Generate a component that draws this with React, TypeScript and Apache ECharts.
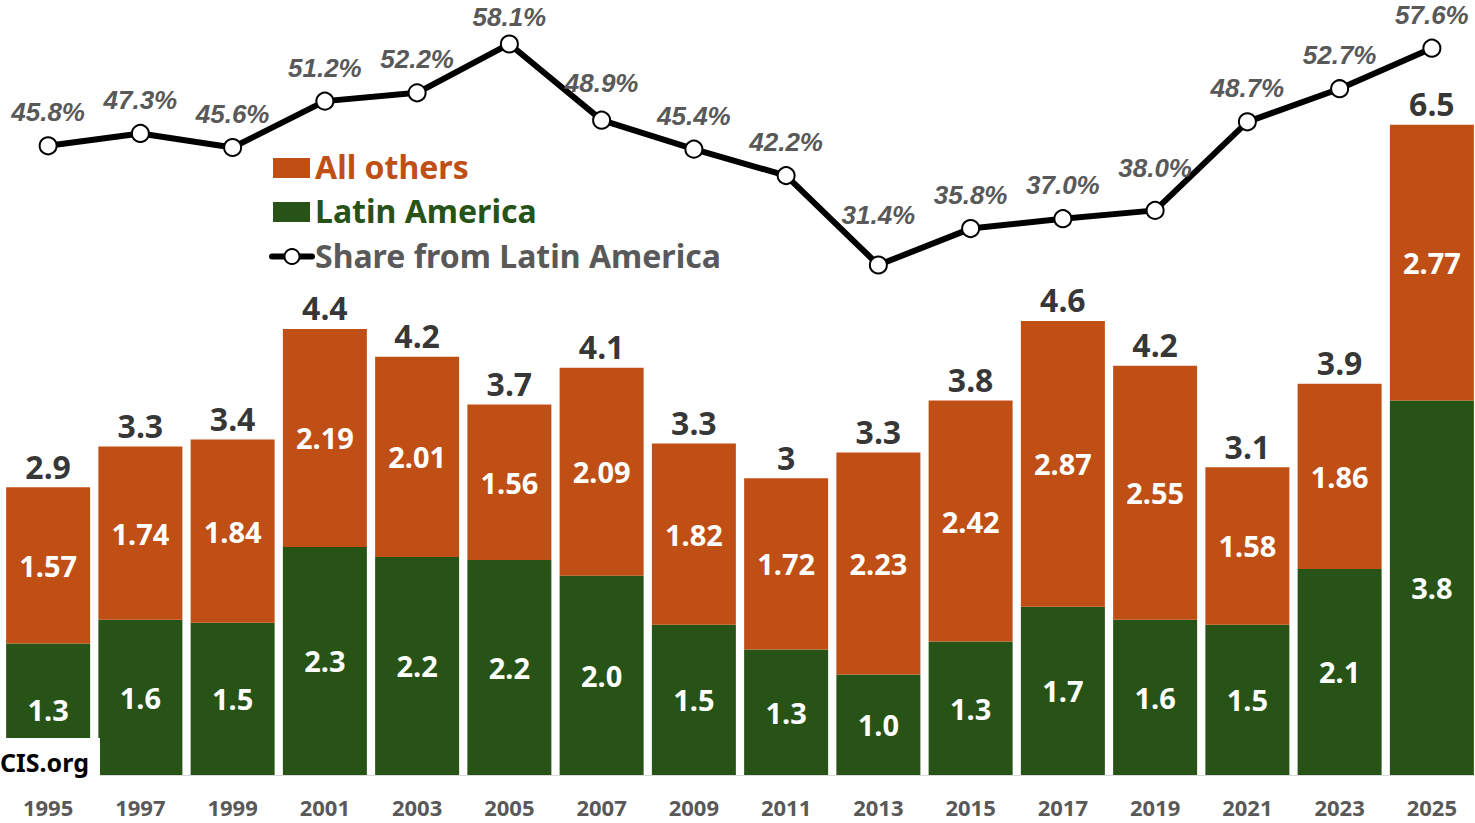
import React, { useEffect, useRef } from "react";
import * as echarts from "echarts";

const years = ["1995","1997","1999","2001","2003","2005","2007","2009","2011","2013","2015","2017","2019","2021","2023","2025"];
const latinAmerica = [1.32,1.56,1.53,2.29,2.19,2.16,2.0,1.51,1.26,1.01,1.34,1.69,1.56,1.51,2.07,3.76];
const allOthers = [1.57,1.74,1.84,2.19,2.01,1.56,2.09,1.82,1.72,2.23,2.42,2.87,2.55,1.58,1.86,2.77];
const totalLabels = ["2.9","3.3","3.4","4.4","4.2","3.7","4.1","3.3","3","3.3","3.8","4.6","4.2","3.1","3.9","6.5"];
const shareLatin = [45.8,47.3,45.6,51.2,52.2,58.1,48.9,45.4,42.2,31.4,35.8,37.0,38.0,48.7,52.7,57.6];
const legendNames = ["All others", "Latin America", "Share from Latin America"];

const ORANGE = "#C04F15";
const GREEN = "#275317";
const GRAY = "#595959";
const FONT = "'Noto Sans', sans-serif";

// label distances for the share labels (layout only)
const shareLabelDistance: Record<number, number> = { 5: 5, 6: 15, 9: 28, 12: 20 };

export default function App() {
  const ref = useRef<HTMLDivElement>(null);
  useEffect(() => {
    if (!ref.current) return;
    const chart = echarts.init(ref.current, null, { renderer: "svg" });
    const totals = latinAmerica.map((v, i) => v + allOthers[i]);
    const gridLeft = 2;
    const gridWidth = 1476;
    const legendText = (txt: string, y: number, color: string) => ({
      type: "text",
      left: 315,
      top: y - 17,
      z: 50,
      style: { text: txt, fill: color, fontSize: 32, fontWeight: "bold", fontFamily: FONT },
    });
    chart.setOption({
      animation: false,
      textStyle: { fontFamily: FONT },
      grid: [
        { left: gridLeft, width: gridWidth, top: 78, height: 697, outerBoundsMode: "none", containLabel: false },
        { left: gridLeft, width: gridWidth, top: 28.3, height: 248.3, outerBoundsMode: "none", containLabel: false },
      ],
      xAxis: [
        {
          type: "category",
          gridIndex: 0,
          data: years,
          axisLine: { show: true, lineStyle: { color: "#D9D9D9", width: 1 } },
          axisTick: { show: false },
          axisLabel: { color: GRAY, fontSize: 22, fontWeight: "bold", fontFamily: FONT, margin: 21 },
        },
        { type: "category", gridIndex: 1, data: years, show: false },
      ],
      yAxis: [
        { type: "value", gridIndex: 0, min: 0, max: 7, show: false, splitLine: { show: false } },
        { type: "value", gridIndex: 1, min: 30, max: 60, show: false, splitLine: { show: false } },
      ],
      series: [
        {
          name: "Latin America",
          type: "bar",
          stack: "total",
          xAxisIndex: 0,
          yAxisIndex: 0,
          barWidth: 84,
          data: latinAmerica,
          itemStyle: { color: GREEN },
          label: {
            show: true,
            position: "inside",
            color: "#fff",
            fontSize: 29,
            fontWeight: "bold",
            fontFamily: FONT,
            formatter: (p: any) => Number(p.value).toFixed(1),
          },
        },
        {
          name: "All others",
          type: "bar",
          stack: "total",
          xAxisIndex: 0,
          yAxisIndex: 0,
          barWidth: 84,
          data: allOthers,
          itemStyle: { color: ORANGE },
          label: {
            show: true,
            position: "inside",
            color: "#fff",
            fontSize: 29,
            fontWeight: "bold",
            fontFamily: FONT,
            formatter: (p: any) => Number(p.value).toFixed(2),
          },
        },
        {
          name: "Total",
          type: "scatter",
          xAxisIndex: 0,
          yAxisIndex: 0,
          symbolSize: 0,
          data: totals,
          silent: true,
          label: {
            show: true,
            position: "top",
            distance: 5,
            color: "#000",
            fontSize: 32,
            fontWeight: "bold",
            fontFamily: FONT,
            formatter: (p: any) => totalLabels[p.dataIndex],
          },
          z: 5,
        },
        {
          name: "Share from Latin America",
          type: "line",
          xAxisIndex: 1,
          yAxisIndex: 1,
          data: shareLatin.map((v, i) =>
            shareLabelDistance[i] !== undefined
              ? { value: v, label: { distance: shareLabelDistance[i] } }
              : v
          ),
          symbol: "circle",
          symbolSize: 17,
          lineStyle: { color: "#000", width: 6 },
          itemStyle: { color: "#fff", borderColor: "#000", borderWidth: 2 },
          label: {
            show: true,
            position: "top",
            distance: 11,
            color: GRAY,
            fontSize: 26,
            fontWeight: "bold",
            fontStyle: "italic",
            fontFamily: "'Liberation Sans', Arial, sans-serif",
            formatter: (p: any) => Number(p.value).toFixed(1) + "%",
          },
          z: 10,
        },
      ],
      graphic: [
        // legend
        { type: "rect", left: 273, top: 158, z: 50, shape: { width: 37, height: 20 }, style: { fill: ORANGE } },
        legendText(legendNames[0], 167, ORANGE),
        { type: "rect", left: 273, top: 202, z: 50, shape: { width: 37, height: 20 }, style: { fill: GREEN } },
        legendText(legendNames[1], 211, GREEN),
        {
          type: "line",
          z: 50,
          shape: { x1: 272, y1: 256.5, x2: 312, y2: 256.5 },
          style: { stroke: "#000", lineWidth: 6, lineCap: "round" },
        },
        {
          type: "circle",
          z: 51,
          shape: { cx: 292, cy: 256.5, r: 7.5 },
          style: { fill: "#fff", stroke: "#000", lineWidth: 2 },
        },
        legendText(legendNames[2], 256, GRAY),
        // watermark
        {
          type: "rect",
          left: 0,
          top: 738,
          z: 100,
          shape: { width: 100, height: 52 },
          style: { fill: "#fff" },
        },
        {
          type: "text",
          left: 0,
          top: 749,
          z: 101,
          style: {
            text: "CIS.org",
            fill: "#000",
            fontSize: 25,
            fontWeight: "bold",
            fontFamily: FONT,
          },
        },
      ],
    });
    return () => chart.dispose();
  }, []);
  return (
    <div
      ref={ref}
      style={{ position: "absolute", left: 0, top: 0, width: 1475, height: 823, background: "#fff" }}
    />
  );
}
